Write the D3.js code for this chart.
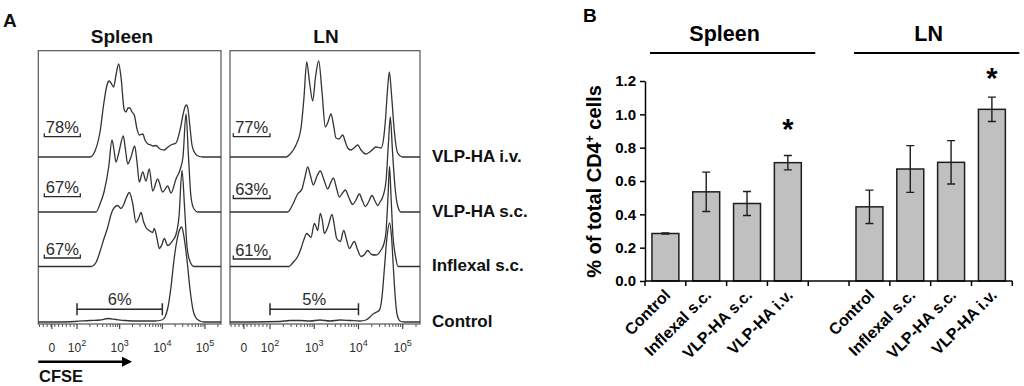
<!DOCTYPE html>
<html><head><meta charset="utf-8">
<script src="https://cdn.jsdelivr.net/npm/d3@7"></script>
<style>
body{margin:0;background:#fff}
svg{display:block}
text{font-family:"Liberation Sans",Arial,Helvetica,sans-serif}
</style>
</head><body>
<svg id="chart" width="1024" height="386"></svg>
<script>
// ---------------- DATA ----------------
// Panel A: CFSE histograms, points = [log10 CFSE (display units), relative count]
const rowLabels = ["VLP-HA i.v.", "VLP-HA s.c.", "Inflexal s.c.", "Control"];
const histPanels = ["Spleen", "LN"];

const spleenIV = [[2.305,0],[2.422,6],[2.539,25],[2.633,55],[2.703,72],[2.757,76],[2.797,74],[2.860,70],[2.914,82],[2.977,93],[3.031,80],[3.108,47],[3.148,45],[3.195,49],[3.242,49],[3.289,45],[3.343,42],[3.406,28],[3.460,22],[3.540,23],[3.594,17],[3.664,13],[3.734,12],[3.781,11],[3.851,11.5],[3.945,8],[4.046,7],[4.133,10],[4.203,12],[4.320,14],[4.414,27],[4.484,42],[4.531,50],[4.566,52],[4.601,48],[4.648,30],[4.695,12],[4.749,5],[4.836,1],[4.953,0]];
const spleenSC = [[2.445,0],[2.539,8],[2.633,20],[2.743,45],[2.820,72],[2.867,62],[2.914,50],[2.984,60],[3.085,76],[3.137,62],[3.188,48],[3.266,55],[3.352,66],[3.406,50],[3.460,30],[3.540,40],[3.617,31],[3.694,43],[3.774,21],[3.891,33],[4.008,20],[4.126,26],[4.203,19],[4.320,33],[4.414,42],[4.484,55],[4.555,98],[4.613,55],[4.672,15],[4.742,3],[4.836,0]];
const spleenInf = [[2.328,0],[2.445,4],[2.539,15],[2.633,28],[2.719,39],[2.797,52],[2.874,59],[2.954,61],[3.031,58],[3.085,61],[3.148,68],[3.226,74],[3.305,63],[3.383,44],[3.441,48],[3.500,54],[3.558,45],[3.617,39],[3.687,36],[3.774,34],[3.812,38],[3.875,28],[3.929,18],[3.992,22],[4.046,28],[4.126,21],[4.243,26],[4.320,32],[4.391,50],[4.461,96],[4.520,60],[4.578,20],[4.648,5],[4.742,0]];
const spleenCtl = [[1.602,0],[1.953,0.5],[2.305,1.5],[2.539,2],[2.727,3.5],[2.914,2.5],[3.125,1.5],[3.476,1],[3.828,1],[3.992,2],[4.062,5],[4.133,15],[4.203,35],[4.273,62],[4.344,82],[4.402,92],[4.454,95],[4.508,85],[4.578,62],[4.648,33],[4.719,12],[4.789,4],[4.883,1],[4.977,0]];

const lnIV = [[2.362,0],[2.475,4],[2.588,12],[2.701,29],[2.769,60],[2.830,95],[2.893,75],[2.965,56],[3.029,80],[3.101,96],[3.176,65],[3.250,30],[3.311,35],[3.379,43],[3.436,32],[3.492,19],[3.560,18],[3.644,22],[3.696,16],[3.757,9],[3.831,7],[3.899,9],[3.983,12],[4.057,7],[4.170,3],[4.284,6],[4.397,10],[4.510,9],[4.567,18],[4.608,36],[4.658,68],[4.698,85],[4.748,62],[4.810,26],[4.887,4],[5.0,0]];
const lnSC = [[2.400,0],[2.520,8],[2.626,18],[2.723,23],[2.791,35],[2.852,45],[2.916,36],[2.979,27],[3.063,36],[3.137,41],[3.221,32],[3.305,23],[3.368,29],[3.431,34],[3.503,24],[3.567,15],[3.639,19],[3.702,22],[3.786,14],[3.870,7.5],[3.944,12],[4.019,18],[4.091,11],[4.155,5.5],[4.227,10],[4.306,16.5],[4.374,11],[4.435,6.5],[4.487,10],[4.548,15],[4.623,31],[4.679,70],[4.720,95],[4.770,60],[4.826,25],[4.887,6],[4.962,0]];
const lnInf = [[2.430,0],[2.520,4],[2.626,10],[2.701,18],[2.775,28],[2.830,33],[2.882,31],[2.927,29],[3.002,43],[3.040,40],[3.078,36],[3.137,53],[3.187,45],[3.228,33],[3.311,40],[3.402,52],[3.458,40],[3.508,28],[3.589,25],[3.666,36],[3.730,27],[3.793,18],[3.906,25],[3.978,17],[4.057,10],[4.137,12],[4.209,16],[4.295,12],[4.397,11.5],[4.510,16.5],[4.577,23],[4.623,35],[4.668,70],[4.702,100],[4.736,70],[4.781,30],[4.838,10],[4.894,0]];
const lnCtl = [[1.548,0],[2.226,0.5],[2.452,1.5],[2.678,1.5],[2.904,1],[3.130,2],[3.357,1],[3.583,2],[3.809,1.5],[4.035,1],[4.170,2],[4.261,5],[4.328,8],[4.412,10],[4.476,12],[4.532,25],[4.589,55],[4.645,85],[4.702,99],[4.748,85],[4.788,55],[4.826,28],[4.871,8],[4.939,1],[5.030,0]];

const spleenGates = ["78%", "67%", "67%", "6%"];
const lnGates = ["77%", "63%", "61%", "5%"];
const proliferatedGate = [2, 4];           // 10^2 .. 10^4 (control gate)
const axisTickLabels = ["0", "2", "3", "4", "5"];  // 0, 10^2 .. 10^5
const axisTickValues = [1.41, 2, 3, 4, 5];

// Panel B: bar chart
const barCategories = ["Control", "Inflexal s.c.", "VLP-HA s.c.", "VLP-HA i.v."];
const groups = ["Spleen", "LN"];
const spleenMeans = [0.285, 0.535, 0.465, 0.71];
const spleenErrors = [0.004, 0.118, 0.072, 0.043];
const lnMeans = [0.445, 0.672, 0.712, 1.03];
const lnErrors = [0.10, 0.14, 0.13, 0.073];
const yTicks = [0, 0.2, 0.4, 0.6, 0.8, 1.0, 1.2];
const significance = [{group: "Spleen", cat: "VLP-HA i.v.", y: 0.95}, {group: "LN", cat: "VLP-HA i.v.", y: 1.255}];

// ---------------- DRAW ----------------
const svg = d3.select("#chart");
svg.append("rect").attr("width", 1024).attr("height", 386).attr("fill", "#fff");

const ink = "#2a2a2a";

// ===== Panel A =====
svg.append("text").attr("x", 3).attr("y", 27.3).attr("font-size", 19).attr("font-weight", "bold").attr("fill", "#111").text("A");

const panelLayouts = [
  {box: [38.3, 221], ref: [77, 205], title: 122, hist: [spleenIV, spleenSC, spleenInf, spleenCtl], gates: spleenGates, gateBox: [44.3, 80.3], gateY: [136.7, 196.7, 258, 309.3]},
  {box: [230, 420], ref: [270, 402.7], title: 326, hist: [lnIV, lnSC, lnInf, lnCtl], gates: lnGates, gateBox: [233.3, 270], gateY: [136.7, 198.5, 259, 309.3]}
];
const boxTop = 50.7, boxBottom = 324;
const baselines = [157, 212, 266.5, 322];

panelLayouts.forEach((P, pi) => {
  const g = svg.append("g");
  const x = d3.scaleLinear().domain([2, 5]).range(P.ref);
  const xMin = x.invert(P.box[0]), xMax = x.invert(P.box[1]);

  g.append("text").attr("x", P.title).attr("y", 42.7).attr("text-anchor", "middle")
    .attr("font-size", 19).attr("font-weight", "bold").attr("fill", "#111").text(histPanels[pi]);

  g.append("rect").attr("x", P.box[0]).attr("y", boxTop).attr("width", P.box[1] - P.box[0]).attr("height", boxBottom - boxTop)
    .attr("fill", "none").attr("stroke", "#555").attr("stroke-width", 1.2);

  P.hist.forEach((h, ri) => {
    const y = d3.scaleLinear().domain([0, 100]).range([baselines[ri], baselines[ri] - 100]);
    const pts = [[xMin, 0]].concat(h, [[xMax, 0]]);
    const line = d3.line().x(d => x(d[0])).y(d => y(d[1])).curve(d3.curveMonotoneX);
    g.append("path").attr("d", line(pts)).attr("fill", "none").attr("stroke", "#333").attr("stroke-width", 1.3);
  });

  P.gates.forEach((t, ri) => {
    const yb = P.gateY[ri];
    if (ri < 3) {
      const x1 = P.gateBox[0], x2 = P.gateBox[1];
      g.append("path").attr("d", `M${x1},${yb - 3.5}L${x1},${yb}L${x2},${yb}L${x2},${yb - 3.5}`)
        .attr("fill", "none").attr("stroke", ink).attr("stroke-width", 1.3);
      g.append("text").attr("x", (x1 + x2) / 2).attr("y", yb - 3.4).attr("text-anchor", "middle")
        .attr("font-size", 16.5).attr("fill", ink).text(t);
    } else {
      const x1 = x(proliferatedGate[0]), x2 = x(proliferatedGate[1]);
      g.append("path").attr("d", `M${x1},${yb - 6}L${x1},${yb + 6}M${x1},${yb}L${x2},${yb}M${x2},${yb - 6}L${x2},${yb + 6}`)
        .attr("fill", "none").attr("stroke", ink).attr("stroke-width", 1.5);
      g.append("text").attr("x", (x1 + x2) / 2).attr("y", yb - 4.5).attr("text-anchor", "middle")
        .attr("font-size", 16.5).attr("fill", ink).text(t);
    }
  });

  const minor = [];
  for (let v = 1.12; v < 1.95; v += 0.09) minor.push(v);
  for (let d = 2; d < 5; d++) for (let k = 2; k <= 9; k++) minor.push(d + Math.log10(k));
  minor.push(5 + Math.log10(2));
  minor.filter(v => x(v) > P.box[0] && x(v) < P.box[1]).forEach(v => {
    g.append("line").attr("x1", x(v)).attr("x2", x(v)).attr("y1", boxBottom).attr("y2", boxBottom + 3)
      .attr("stroke", "#555").attr("stroke-width", 1);
  });
  axisTickValues.forEach((v, i) => {
    g.append("line").attr("x1", x(v)).attr("x2", x(v)).attr("y1", boxBottom).attr("y2", boxBottom + 5)
      .attr("stroke", "#444").attr("stroke-width", 1.2);
    const t = g.append("text").attr("x", x(v)).attr("y", 351.7).attr("text-anchor", "middle")
      .attr("font-size", 12).attr("fill", ink);
    if (i === 0) t.text(axisTickLabels[i]);
    else {
      t.append("tspan").text("10");
      t.append("tspan").attr("dy", -6).attr("font-size", 9).text(axisTickLabels[i]);
    }
  });
});

rowLabels.forEach((r, i) => {
  svg.append("text").attr("x", 432).attr("y", baselines[i] - 1).attr("dy", "0.35em")
    .attr("font-size", 17).attr("font-weight", "bold").attr("fill", "#111").text(r);
});

svg.append("defs").append("marker").attr("id", "arr").attr("viewBox", "0 0 10 10").attr("refX", 8).attr("refY", 5)
  .attr("markerWidth", 4).attr("markerHeight", 4).attr("orient", "auto")
  .append("path").attr("d", "M0,0L10,5L0,10z").attr("fill", "#000");
svg.append("line").attr("x1", 38.3).attr("x2", 130).attr("y1", 361.7).attr("y2", 361.7)
  .attr("stroke", "#000").attr("stroke-width", 2.5).attr("marker-end", "url(#arr)");
svg.append("text").attr("x", 39).attr("y", 382.3).attr("font-size", 16.5).attr("font-weight", "bold").attr("fill", "#111").text("CFSE");

// ===== Panel B =====
svg.append("text").attr("x", 583).attr("y", 22).attr("font-size", 19).attr("font-weight", "bold").attr("fill", "#000").text("B");

const keys = [];
groups.forEach((g, gi) => {
  barCategories.forEach(c => keys.push(g + "|" + c));
  if (gi === 0) keys.push("gap");
});
const xb = d3.scaleBand().domain(keys).range([645, 1012.3]).paddingInner(0.34).paddingOuter(0.17);
const yb = d3.scaleLinear().domain([0, 1.2]).range([281, 81]);
const step = xb.step(), bw = xb.bandwidth();
const off = (step - bw) / 2;

const barData = [];
groups.forEach((g, gi) => {
  const m = gi === 0 ? spleenMeans : lnMeans, e = gi === 0 ? spleenErrors : lnErrors;
  barCategories.forEach((c, ci) => barData.push({key: g + "|" + c, group: g, cat: c, v: m[ci], e: e[ci]}));
});

const B = svg.append("g");
B.selectAll("rect.bar").data(barData).join("rect").attr("class", "bar")
  .attr("x", d => xb(d.key)).attr("width", bw)
  .attr("y", d => yb(d.v)).attr("height", d => yb(0) - yb(d.v))
  .attr("fill", "#c0c0c0").attr("stroke", "#1e1e1e").attr("stroke-width", 1.5);
barData.forEach(d => {
  const cx = xb(d.key) + bw / 2;
  B.append("path").attr("d", `M${cx},${yb(d.v + d.e)}L${cx},${yb(d.v - d.e)}M${cx - 4},${yb(d.v + d.e)}L${cx + 4},${yb(d.v + d.e)}M${cx - 4},${yb(d.v - d.e)}L${cx + 4},${yb(d.v - d.e)}`)
    .attr("stroke", "#1e1e1e").attr("stroke-width", 1.4).attr("fill", "none");
});

const yAxis = B.append("g").attr("transform", "translate(645,0)")
  .call(d3.axisLeft(yb).tickValues(yTicks).tickFormat(d3.format(".1f")).tickSize(5).tickSizeOuter(0));
yAxis.select(".domain").attr("stroke", "#000").attr("stroke-width", 1.5);
yAxis.selectAll(".tick line").attr("stroke", "#000").attr("stroke-width", 1.5);
yAxis.selectAll(".tick text").attr("font-size", 15).attr("font-weight", "bold").attr("fill", "#000")
  .attr("font-family", "Liberation Sans, Arial, sans-serif").attr("x", -9);

B.append("line").attr("x1", 645).attr("x2", 1012.3).attr("y1", yb(0)).attr("y2", yb(0)).attr("stroke", "#000").attr("stroke-width", 1.5);
keys.forEach((k, i) => {
  const tx = xb(k) - off;
  B.append("line").attr("x1", tx).attr("x2", tx).attr("y1", yb(0)).attr("y2", yb(0) + 5).attr("stroke", "#000").attr("stroke-width", 1.5);
  if (i === keys.length - 1) {
    const ex = xb(k) + bw + off;
    B.append("line").attr("x1", ex).attr("x2", ex).attr("y1", yb(0)).attr("y2", yb(0) + 5).attr("stroke", "#000").attr("stroke-width", 1.5);
  }
});
barData.forEach(d => {
  const cx = xb(d.key) + bw / 2;
  B.append("text").attr("transform", `translate(${cx + 6},${yb(0) + 15}) rotate(-45)`)
    .attr("text-anchor", "end").attr("font-size", 16).attr("font-weight", "bold").attr("fill", "#000").text(d.cat);
});

const yl = B.append("text").attr("transform", "translate(601,181.5) rotate(-90)").attr("text-anchor", "middle")
  .attr("font-size", 20).attr("font-weight", "bold").attr("fill", "#000");
yl.append("tspan").text("% of total CD4");
yl.append("tspan").attr("dy", -7).attr("font-size", 12).text("+");
yl.append("tspan").attr("dy", 7).text(" cells");

groups.forEach(g => {
  const first = g + "|" + barCategories[0], last = g + "|" + barCategories[barCategories.length - 1];
  const x1 = xb(first) - off + 5, x2 = xb(last) + bw + off + 7;
  B.append("line").attr("x1", x1).attr("x2", x2).attr("y1", 53).attr("y2", 53).attr("stroke", "#000").attr("stroke-width", 2);
  B.append("text").attr("x", (x1 + x2) / 2 - 8).attr("y", 40.7).attr("text-anchor", "middle")
    .attr("font-size", 21.5).attr("font-weight", "bold").attr("fill", "#000").text(g);
});

significance.forEach(s => {
  const cx = xb(s.group + "|" + s.cat) + bw / 2;
  B.append("text").attr("x", cx).attr("y", yb(s.y)).attr("dy", "0.56em").attr("text-anchor", "middle")
    .attr("font-size", 29).attr("font-weight", "bold").attr("fill", "#000").text("*");
});
</script>
</body></html>
